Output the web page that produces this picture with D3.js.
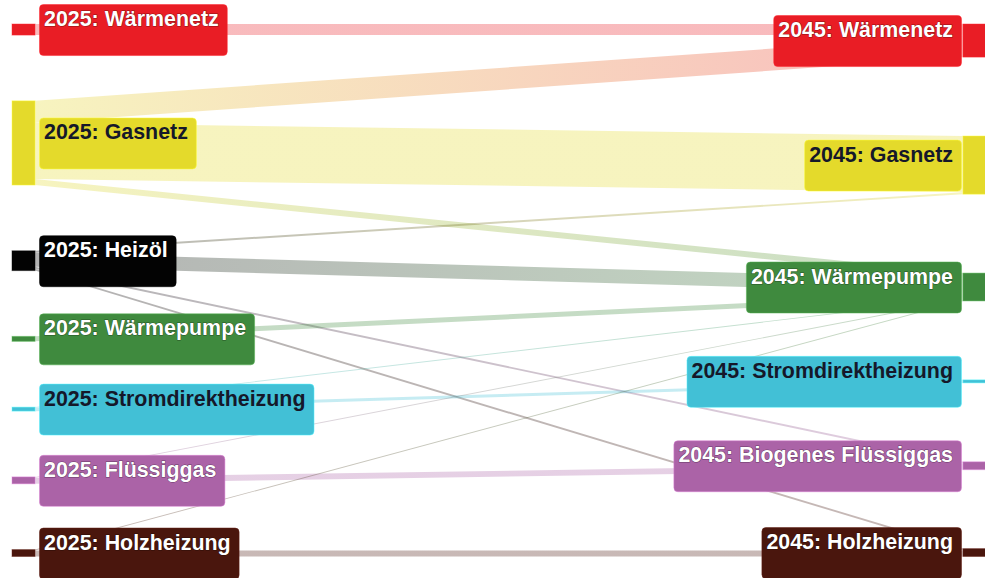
<!DOCTYPE html>
<html><head><meta charset="utf-8">
<script src="https://cdn.jsdelivr.net/npm/d3@7"></script>
<style>
  body { margin: 0; background: #fff; }
  svg { display: block; }
</style></head>
<body><svg id="chart" width="985" height="578"></svg>
<script>
// Heating systems 2025 -> 2045 (share of buildings, %)
const nodes2025 = ["Wärmenetz", "Gasnetz", "Heizöl", "Wärmepumpe", "Stromdirektheizung", "Flüssiggas", "Holzheizung"];
const nodes2045 = ["Wärmenetz", "Gasnetz", "Wärmepumpe", "Stromdirektheizung", "Biogenes Flüssiggas", "Holzheizung"];

const flowFrom  = ["Wärmenetz", "Gasnetz", "Gasnetz", "Gasnetz", "Heizöl", "Heizöl", "Heizöl", "Heizöl",
                   "Wärmepumpe", "Stromdirektheizung", "Stromdirektheizung", "Flüssiggas", "Flüssiggas",
                   "Holzheizung", "Holzheizung"];
const flowTo    = ["Wärmenetz", "Wärmenetz", "Gasnetz", "Wärmepumpe", "Gasnetz", "Wärmepumpe", "Biogenes Flüssiggas", "Holzheizung",
                   "Wärmepumpe", "Wärmepumpe", "Stromdirektheizung", "Wärmepumpe", "Biogenes Flüssiggas",
                   "Wärmepumpe", "Holzheizung"];
const flowValue = [8.0, 15.9, 40.6, 4.3, 1.4, 10.1, 1.4, 1.4,
                   3.6, 0.7, 2.2, 0.7, 4.3,
                   0.7, 4.3];

const years = ["2025", "2045"];

// Styling
const nodeColor = {
  "Wärmenetz": "#e91d25",
  "Gasnetz": "#e4da2b",
  "Heizöl": "#030303",
  "Wärmepumpe": "#3f8a3e",
  "Stromdirektheizung": "#42c0d6",
  "Flüssiggas": "#ab63a7",
  "Biogenes Flüssiggas": "#ab63a7",
  "Holzheizung": "#4a160d"
};
const darkLabel = new Set(["Gasnetz", "Stromdirektheizung"]);

const width = 985, height = 578;
const nodeWidth = 23;
const extentTop = 24, extentBottom = 556.5;
const linkOpacity = 0.3;
const fontSize = 21.4;

const svg = d3.select("#chart");
const defs = svg.append("defs");

const xCol = d3.scalePoint().domain(years).range([12, width - 22]);
const valueToPx = d3.scaleLinear().domain([0, 100]).range([0, 138.5]);

// Build graph
function makeNodes(names, year) {
  return names.map(name => ({ name, year, sourceLinks: [], targetLinks: [] }));
}
const colA = makeNodes(nodes2025, years[0]);
const colB = makeNodes(nodes2045, years[1]);
const links = flowValue.map((v, i) => {
  const source = colA.find(n => n.name === flowFrom[i]);
  const target = colB.find(n => n.name === flowTo[i]);
  const l = { source, target, value: v, width: valueToPx(v) };
  source.sourceLinks.push(l);
  target.targetLinks.push(l);
  return l;
});

// Column layout: nodes justified over the full column height with equal gaps
[colA, colB].forEach(col => {
  col.forEach(n => {
    n.value = Math.max(d3.sum(n.sourceLinks, l => l.value), d3.sum(n.targetLinks, l => l.value));
    n.h = valueToPx(n.value);
    n.x0 = xCol(n.year);
    n.x1 = n.x0 + nodeWidth;
  });
  const gap = (extentBottom - extentTop - d3.sum(col, n => n.h)) / (col.length - 1);
  let y = extentTop;
  col.forEach(n => { n.y0 = y; n.y1 = y + n.h; y = n.y1 + gap; });
});

// Link attachment offsets
colA.forEach(n => {
  n.sourceLinks.sort((a, b) => a.target.y0 - b.target.y0);
  let y = n.y0;
  n.sourceLinks.forEach(l => { l.sy = y; y += l.width; });
});
colB.forEach(n => {
  n.targetLinks.sort((a, b) => a.source.y0 - b.source.y0);
  let y = n.y0;
  n.targetLinks.forEach(l => { l.ty = y; y += l.width; });
});

// Links: straight bands with a colour gradient from source to target
links.forEach((l, i) => {
  const g = defs.append("linearGradient")
    .attr("id", "lg" + i)
    .attr("gradientUnits", "userSpaceOnUse")
    .attr("x1", l.source.x1).attr("x2", l.target.x0)
    .attr("y1", 0).attr("y2", 0);
  g.append("stop").attr("offset", "0%").attr("stop-color", nodeColor[l.source.name]);
  g.append("stop").attr("offset", "100%").attr("stop-color", nodeColor[l.target.name]);
});

svg.append("g").selectAll("path").data(links).join("path")
  .attr("d", l => {
    const xs = l.source.x1, xt = l.target.x0;
    const p = d3.path();
    p.moveTo(xs, l.sy);
    p.lineTo(xt, l.ty);
    p.lineTo(xt, l.ty + l.width);
    p.lineTo(xs, l.sy + l.width);
    p.closePath();
    return p.toString();
  })
  .attr("fill", (l, i) => `url(#lg${i})`)
  .attr("fill-opacity", linkOpacity);

// Nodes
const allNodes = colA.concat(colB);
svg.append("g").selectAll("rect").data(allNodes).join("rect")
  .attr("x", n => n.x0)
  .attr("y", n => n.y0)
  .attr("width", nodeWidth)
  .attr("height", n => Math.max(1, n.y1 - n.y0))
  .attr("fill", n => nodeColor[n.name])
  .attr("stroke", n => d3.color(nodeColor[n.name]).brighter(0.8))
  .attr("stroke-opacity", 0.45)
  .attr("stroke-width", 1);

// Labels in coloured boxes
const boxH = 51, padL = 5, padR = 8;
const labelG = svg.append("g")
  .attr("font-family", "'Liberation Sans', Arial, Helvetica, sans-serif")
  .attr("font-weight", "bold")
  .attr("font-size", fontSize);

allNodes.forEach(n => {
  const isLeft = n.year === years[0];
  const cy = (n.y0 + n.y1) / 2;
  const top = cy - boxH / 2;
  const g = labelG.append("g");
  const rect = g.append("rect");
  const text = g.append("text")
    .text(`${n.year}: ${n.name}`)
    .attr("y", top + 22)
    .attr("fill", darkLabel.has(n.name) ? "#15182a" : "#ffffff");
  if (!darkLabel.has(n.name)) {
    text.attr("stroke", "rgba(0,0,0,0.45)").attr("stroke-width", 1).attr("paint-order", "stroke");
  }
  const tw = text.node().getComputedTextLength();
  const bw = tw + padL + padR;
  const bx = isLeft ? n.x1 + 4 : n.x0 - 2 - bw;
  text.attr("x", bx + padL);
  rect.attr("x", bx + 0.5).attr("y", top + 0.5)
    .attr("width", bw).attr("height", boxH)
    .attr("rx", 4).attr("ry", 4)
    .attr("fill", nodeColor[n.name])
    .attr("stroke", d3.color(nodeColor[n.name]).brighter(0.7))
    .attr("stroke-opacity", 0.5)
    .attr("stroke-width", 1);
});
</script></body></html>
